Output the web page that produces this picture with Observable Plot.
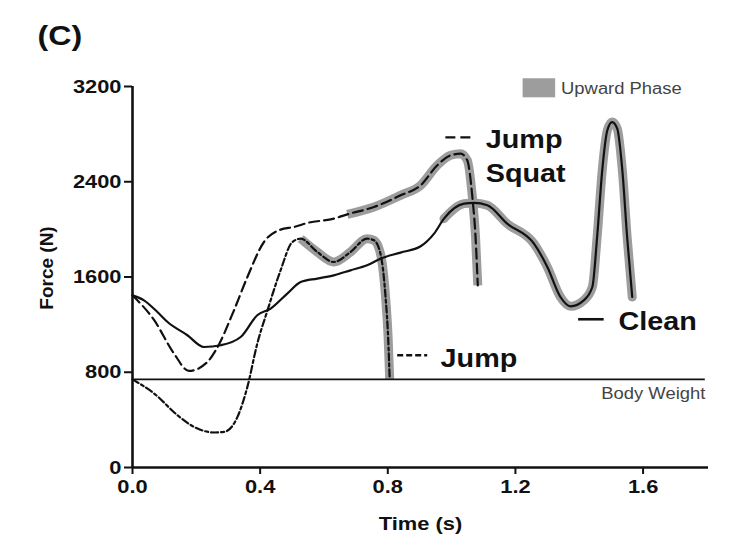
<!DOCTYPE html>
<html>
<head>
<meta charset="utf-8">
<script src="https://cdn.jsdelivr.net/npm/d3@7"></script>
<script src="https://cdn.jsdelivr.net/npm/@observablehq/plot@0.6"></script>
<style>
  body { margin: 0; background: #fff; }
  #chart { width: 740px; height: 540px; }
</style>
</head>
<body>
<div id="chart"></div>
<script>
// Vertical ground reaction force during three lifts (time in s, force in N)
const cleanTime   = [0, 0.036, 0.078, 0.11, 0.172, 0.224, 0.277, 0.339, 0.391, 0.433, 0.485, 0.527, 0.579, 0.631, 0.683, 0.735, 0.777, 0.84, 0.903, 0.945, 0.976, 1.039, 1.07, 1.112, 1.174, 1.258, 1.3, 1.341, 1.373, 1.414, 1.441, 1.456, 1.472, 1.488, 1.503, 1.519, 1.535, 1.55, 1.566];
const cleanForce  = [1446, 1404, 1306, 1222, 1111, 1012, 1027, 1096, 1279, 1335, 1461, 1558, 1587, 1614, 1656, 1698, 1754, 1805, 1858, 1964, 2090, 2216, 2222, 2202, 2048, 1880, 1684, 1432, 1354, 1404, 1516, 1936, 2496, 2832, 2901, 2846, 2496, 1936, 1432];

const squatTime   = [0, 0.068, 0.13, 0.177, 0.235, 0.261, 0.318, 0.36, 0.412, 0.464, 0.506, 0.548, 0.631, 0.673, 0.757, 0.84, 0.903, 0.955, 0.997, 1.028, 1.049, 1.065, 1.075, 1.082];
const squatForce  = [1446, 1237, 957, 811, 887, 985, 1320, 1600, 1894, 1998, 2020, 2054, 2090, 2126, 2188, 2286, 2370, 2538, 2622, 2636, 2580, 2272, 1936, 1530];

const jumpTime    = [0, 0.068, 0.141, 0.193, 0.256, 0.287, 0.329, 0.36, 0.391, 0.423, 0.464, 0.501, 0.527, 0.579, 0.631, 0.683, 0.735, 0.757, 0.777, 0.793, 0.801, 0.806];
const jumpForce   = [740, 621, 439, 341, 294, 299, 425, 677, 1041, 1320, 1656, 1894, 1922, 1810, 1726, 1810, 1922, 1908, 1796, 1432, 1096, 740];

// Start of the upward (propulsive) phase for each lift, in s
const upwardStart = {clean: 0.976, squat: 0.673, jump: 0.527};

const bodyWeight = 740;
const xTicks = [0, 0.4, 0.8, 1.2, 1.6];
const yTicks = [0, 800, 1600, 2400, 3200];

const toRows = (ts, fs) => ts.map((t, i) => ({t, f: fs[i]}));
const clean = toRows(cleanTime, cleanForce);
const squat = toRows(squatTime, squatForce);
const jump  = toRows(jumpTime, jumpForce);
const upward = (rows, t0) => rows.filter(d => d.t >= t0);

const font = "'Liberation Sans', Arial, sans-serif";
const gray = "#9d9d9d";
const squatDash = "10,5";
const jumpDash = "7,3,3,3";
const curve = "monotone-x";

const svg = Plot.plot({
  width: 740,
  height: 540,
  marginLeft: 132,
  marginRight: 32,
  marginTop: 86,
  marginBottom: 73,
  style: {fontFamily: font, background: "#fff", color: "#111"},
  x: {domain: [0, 1.805]},
  y: {domain: [0, 3200]},
  marks: [
    // upward-phase highlight under each trace
    Plot.line(upward(clean, upwardStart.clean), {x: "t", y: "f", stroke: gray, strokeWidth: 9, strokeLinejoin: "round", strokeLinecap: "round", curve}),
    Plot.line(upward(squat, upwardStart.squat), {x: "t", y: "f", stroke: gray, strokeWidth: 9, strokeLinejoin: "round", strokeLinecap: "butt", curve}),
    Plot.line(upward(jump, upwardStart.jump), {x: "t", y: "f", stroke: gray, strokeWidth: 9, strokeLinejoin: "round", strokeLinecap: "butt", curve}),

    // body weight reference
    Plot.ruleY([bodyWeight], {x1: 0, x2: 1.795, stroke: "#111", strokeWidth: 1.6}),
    Plot.text(["Body Weight"], {x: 1.795, y: 615, textAnchor: "end", lineAnchor: "middle", fontSize: 16, fill: "#444"}),

    // force traces
    Plot.line(clean, {x: "t", y: "f", stroke: "#111", strokeWidth: 2.2, curve}),
    Plot.line(squat, {x: "t", y: "f", stroke: "#111", strokeWidth: 2.2, strokeDasharray: squatDash, curve}),
    Plot.line(jump,  {x: "t", y: "f", stroke: "#111", strokeWidth: 2.2, strokeDasharray: jumpDash, curve}),

    // axes
    Plot.axisX({ticks: xTicks, tickFormat: d3.format(".1f"), tickSize: 7, tickPadding: 5, fontSize: 19, fontWeight: "bold", strokeWidth: 2, label: null}),
    Plot.axisY({ticks: yTicks, tickFormat: d => String(d), tickSize: 8, tickPadding: 3, fontSize: 19, fontWeight: "bold", strokeWidth: 2, label: null}),
    Plot.ruleX([0], {y1: 0, y2: 3200, stroke: "#111", strokeWidth: 2.6}),
    Plot.ruleY([0], {x1: 0, x2: 1.805, stroke: "#111", strokeWidth: 2.6}),
    Plot.text(["Time (s)"], {frameAnchor: "bottom", dy: 62, textAnchor: "middle", lineAnchor: "bottom", fontSize: 19, fontWeight: "bold"}),
    Plot.text(["Force (N)"], {frameAnchor: "left", dx: -86, dy: -9, rotate: -90, textAnchor: "middle", lineAnchor: "middle", fontSize: 19, fontWeight: "bold"}),
    Plot.text(["(C)"], {frameAnchor: "top-left", dx: -95, dy: -61, lineAnchor: "top", fontSize: 28, fontWeight: "bold"}),

    // "Upward Phase" key
    Plot.rect([0], {x1: 1.224, x2: 1.326, y1: 3105, y2: 3265, fill: gray}),
    Plot.text(["Upward Phase"], {x: 1.343, y: 3184, textAnchor: "start", lineAnchor: "middle", fontSize: 16, fill: "#444"}),

    // series labels with line-style samples
    Plot.ruleY([2773], {x1: 0.982, x2: 1.068, stroke: "#111", strokeWidth: 2.4, strokeDasharray: squatDash}),
    Plot.text(["Jump"],  {x: 1.107, y: 2680, textAnchor: "start", lineAnchor: "bottom", fontSize: 25, fontWeight: "bold"}),
    Plot.text(["Squat"], {x: 1.107, y: 2395, textAnchor: "start", lineAnchor: "bottom", fontSize: 25, fontWeight: "bold"}),
    Plot.ruleY([1245], {x1: 1.398, x2: 1.478, stroke: "#111", strokeWidth: 2.6}),
    Plot.text(["Clean"], {x: 1.523, y: 1153, textAnchor: "start", lineAnchor: "bottom", fontSize: 25, fontWeight: "bold"}),
    Plot.ruleY([943], {x1: 0.831, x2: 0.925, stroke: "#111", strokeWidth: 2.4, strokeDasharray: "6,3"}),
    Plot.text(["Jump"],  {x: 0.9655, y: 842, textAnchor: "start", lineAnchor: "bottom", fontSize: 25, fontWeight: "bold"})
  ]
});

document.getElementById("chart").append(svg);

// Type in this figure is set slightly wide: stretch each horizontal label.
svg.querySelectorAll("text").forEach(el => {
  if (el.textContent === "Force (N)") return;
  const len = el.getComputedTextLength();
  if (len > 0) {
    el.setAttribute("textLength", (len * 1.15).toFixed(1));
    el.setAttribute("lengthAdjust", "spacingAndGlyphs");
  }
});
</script>
</body>
</html>
